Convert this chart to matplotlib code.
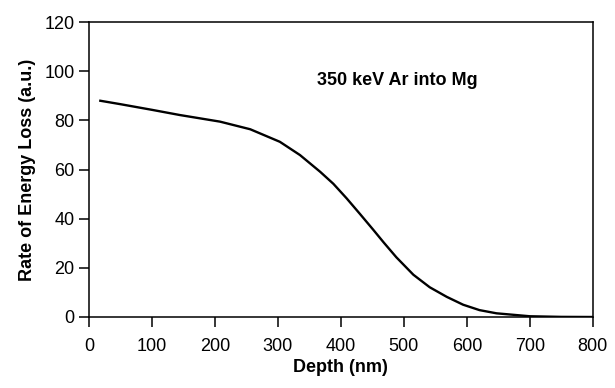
import matplotlib
matplotlib.use("Agg")
import matplotlib.pyplot as plt

depth_nm = [18, 50, 100, 144, 208, 256, 303, 335, 367, 388, 409, 430, 451, 468, 488, 515, 541, 568, 594, 620, 647, 700, 750, 800]
energy_loss = [88.0, 86.6, 84.3, 82.2, 79.5, 76.4, 71.3, 65.9, 59.1, 54.2, 48.3, 42.0, 35.6, 30.3, 24.3, 17.2, 12.1, 8.2, 5.0, 2.8, 1.5, 0.3, 0.05, 0.0]

x_ticks = [0, 100, 200, 300, 400, 500, 600, 700, 800]
y_ticks = [0, 20, 40, 60, 80, 100, 120]

plt.rcParams['font.family'] = ['Liberation Sans', 'DejaVu Sans']

fig = plt.figure(figsize=(6.15, 3.88), dpi=100)
ax = fig.add_axes([0.1447, 0.183, 0.8193, 0.760])
ax.plot(depth_nm, energy_loss, color='black', lw=1.7, solid_joinstyle='round')
ax.set_xlim(0, 800)
ax.set_ylim(0, 120)
ax.set_xticks(x_ticks)
ax.set_yticks(y_ticks)
ax.tick_params(direction='out', length=7, width=1.1, labelsize=13, colors='black')
ax.tick_params(axis='x', pad=8)
for s in ax.spines.values():
    s.set_linewidth(1.1)
ax.set_xlabel('Depth (nm)', fontsize=13, fontweight='bold', labelpad=3)
ax.set_ylabel('Rate of Energy Loss (a.u.)', fontsize=13, fontweight='bold', labelpad=6)
ax.text(362, 96.4, '350 keV Ar into Mg', fontsize=13, fontweight='bold', va='center', ha='left')
fig.savefig('out.png', dpi=100)
